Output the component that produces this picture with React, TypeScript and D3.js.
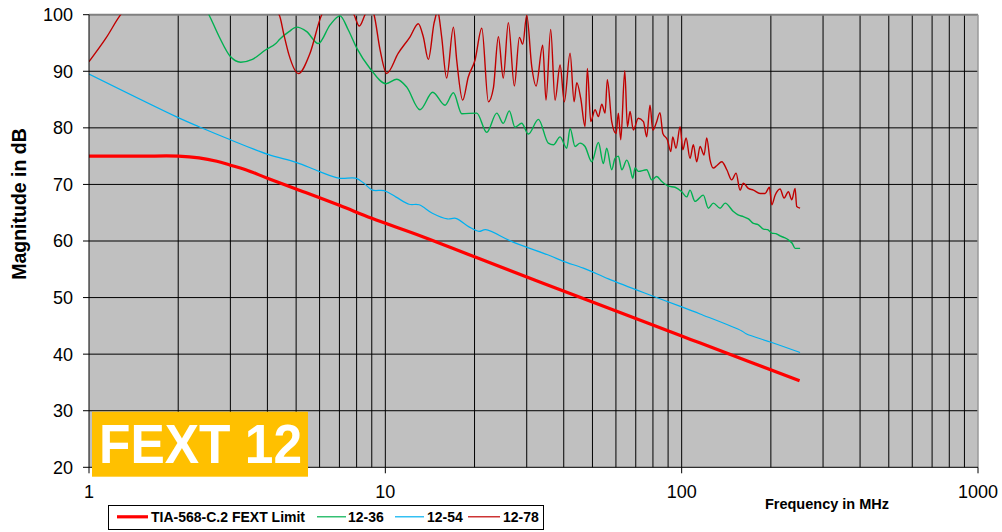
import React from "react";
import * as d3 from "d3";

// ---- Data (frequency in MHz, magnitude in dB) ----
const limitFreq = [1, 1.5, 2, 2.35, 2.7, 3, 3.38, 4, 5, 7, 9, 13.3, 20, 50, 100, 115, 250];
const limitDb = [75, 75, 75, 74.7, 74.1, 73.4, 72.6, 71.1, 69.2, 66.3, 64.0, 60.8, 57.2, 49.2, 43.2, 42.0, 35.3];

const blueFreq = [1, 2, 2.35, 3, 4.02, 5, 5.98, 6.98, 7.94, 8.47, 9.04, 9.9, 10.84, 12.02, 13.0, 14.41, 16.19, 17.29, 19.16, 20.7, 21.8, 27, 36, 39.9, 46.6, 56.6, 75, 99.5, 115.4, 159.6, 165, 200.4, 251];
const blueDb = [89.5, 81.8, 80.2, 77.9, 75.3, 73.9, 72.3, 71.1, 71.1, 70.2, 69.0, 68.9, 67.8, 66.5, 66.4, 64.9, 63.9, 64.0, 62.5, 61.7, 62.0, 59.8, 57.4, 56.4, 55.2, 53.3, 50.8, 48.4, 47.1, 44.1, 43.6, 42.1, 40.3];

const greenFreq = [2.3, 2.54, 2.75, 3.0, 3.25, 3.56, 3.95, 4.27, 4.41, 4.73, 5.02, 5.43, 5.94, 6.51, 7.03, 7.5, 8.01, 8.88, 10.06, 10.93, 11.81, 13.09, 14.45, 15.9, 16.97, 18.11, 20.35, 21.99, 23.77, 25.0, 26.2, 27.4, 28.84, 30.39, 32.85, 35.48, 36.9, 38.88, 40.95, 42.02, 43.67, 45.4, 47.2, 49.73, 52.36, 54.42, 55.85, 58.07, 59.57, 61.14, 62.8, 65.27, 66.96, 68.4, 69.6, 71.4, 76.2, 79.25, 82.4, 85.7, 90.2, 95.0, 100.1, 104.0, 106.7, 110.9, 118.3, 123.0, 127.9, 134.8, 140.2, 149.5, 155, 161.5, 168, 174.6, 181, 188.8, 195, 201.4, 208, 214.8, 222, 229.1, 236, 241.4, 251];
const greenDb = [104, 100, 96.1, 92.6, 91.6, 92.1, 93.8, 94.9, 95.7, 97.0, 97.8, 97.0, 94.9, 98.2, 99.8, 97.3, 94.1, 90.5, 87.8, 88.6, 87.2, 83.2, 86.3, 84.0, 86.2, 82.5, 82.6, 79.2, 82.6, 80.8, 83.0, 80.1, 80.8, 78.9, 81.5, 77.3, 77.0, 78.4, 76.4, 79.9, 76.7, 77.3, 76.7, 74.0, 77.4, 73.7, 76.4, 72.6, 74.6, 75.0, 72.6, 74.3, 72.9, 71.1, 72.9, 72.3, 72.6, 70.8, 71.4, 70.5, 69.7, 69.5, 68.7, 67.8, 69.0, 67.0, 68.1, 65.8, 66.7, 65.8, 66.7, 65.2, 64.6, 64.3, 63.9, 63.1, 62.9, 62.1, 62.0, 61.4, 61.3, 60.9, 60.6, 60.2, 59.6, 58.7, 58.7];

const redFreq = [1, 1.139, 1.279, 1.6, 2.5, 3.5, 4.38, 4.55, 4.73, 5.09, 5.57, 6.1, 6.94, 7.84, 8.17, 8.54, 8.85, 9.16, 9.6, 10.1, 11.06, 12.12, 12.92, 13.43, 13.97, 14.6, 14.83, 14.95, 15.14, 15.49, 16.1, 16.97, 17.41, 18.24, 19.05, 20.08, 21.16, 22.27, 23.15, 24.07, 25.0, 26.01, 27.25, 28.34, 29.09, 30.0, 31.2, 32.26, 33.97, 34.85, 36.14, 37.38, 38.88, 40.18, 42.02, 43.35, 44.26, 45.65, 47.2, 48.06, 49.34, 51.02, 52.36, 53.75, 55.14, 56.13, 58.07, 60.06, 61.14, 62.3, 64.27, 65.6, 66.96, 68.7, 71.4, 74.3, 76.2, 78.2, 79.9, 82.0, 84.5, 86.4, 89.5, 91.9, 93.3, 95.7, 98.8, 100.9, 103.5, 106.7, 109.5, 112.4, 115.4, 119.0, 121.5, 124.7, 127.9, 131.3, 136.6, 142.0, 147.6, 152.6, 157.4, 161.5, 167.9, 174.6, 183.9, 191.2, 197.7, 201.4, 206.7, 214.8, 221.6, 229.1, 235.3, 241.4, 244.5, 251];
const redDb = [91.7, 95.8, 100, 104, 106, 104, 100, 96.4, 92.9, 89.6, 93.2, 100, 103, 100, 98.0, 100, 101.5, 100, 93.8, 89.6, 93.2, 96.1, 98.4, 96.1, 92.1, 98.5, 100, 101, 100, 96.1, 88.8, 97.8, 92.0, 84.9, 89.0, 92.0, 97.6, 84.6, 87.0, 96.1, 88.8, 98.6, 87.4, 96.0, 94.8, 99.9, 90.8, 87.4, 94.6, 84.9, 97.4, 84.9, 91.1, 84.6, 93.2, 84.6, 88.0, 85.2, 80.2, 90.5, 81.1, 83.2, 82.0, 84.2, 82.6, 88.5, 81.1, 79.0, 82.6, 77.9, 90.1, 80.2, 82.9, 79.6, 81.7, 81.1, 78.4, 84.0, 79.6, 80.8, 82.7, 79.0, 77.9, 75.8, 78.4, 76.4, 80.2, 76.1, 78.2, 74.6, 77.0, 74.0, 76.7, 75.2, 78.2, 74.3, 72.9, 73.3, 74.0, 72.6, 70.8, 72.0, 69.0, 70.2, 69.3, 69.0, 68.4, 68.4, 69.5, 66.4, 68.1, 69.2, 67.6, 68.7, 67.3, 69.3, 66.1, 65.8];

const yTicks = [20, 30, 40, 50, 60, 70, 80, 90, 100];
const xTickLabels = [1, 10, 100, 1000];

const seriesNames = ["TIA-568-C.2 FEXT Limit", "12-36", "12-54", "12-78"];

const W = 1002;
const H = 532;
const L = 89;
const R = 978;
const T = 14.7;
const B = 467.3;

export default function App() {
  const x = d3.scaleLog().domain([1, 1000]).range([L, R]);
  const y = d3.scaleLinear().domain([20, 100]).range([B, T]);

  const mk = (fs: number[], vs: number[], curve: d3.CurveFactory) =>
    d3
      .line<number>()
      .x((_, i) => x(fs[i]))
      .y((v) => y(v))
      .curve(curve)(vs) || "";

  const minorX: number[] = [];
  [1, 10, 100].forEach((dec) => {
    for (let k = 2; k <= 9; k++) minorX.push(dec * k);
  });
  minorX.push(10, 100);

  const font = "Arial, 'Liberation Sans', Helvetica, sans-serif";

  const legendItems = [
    { name: seriesNames[0], color: "#FF0000", w: 3.2, x1: 117, x2: 148, tx: 151 },
    { name: seriesNames[1], color: "#00B050", w: 1.2, x1: 317, x2: 346, tx: 348 },
    { name: seriesNames[2], color: "#00B0F0", w: 1.2, x1: 395, x2: 424, tx: 427 },
    { name: seriesNames[3], color: "#C00000", w: 1.2, x1: 468, x2: 500, tx: 503 },
  ];

  return (
    <svg
      width={W}
      height={H}
      style={{ position: "fixed", left: 0, top: 0, background: "#fff" }}
      fontFamily={font}
    >
      <defs>
        <clipPath id="plotClip">
          <rect x={L} y={T} width={R - L} height={B - T} />
        </clipPath>
      </defs>
      <rect x={L} y={T} width={R - L} height={B - T} fill="#C0C0C0" />
      {/* vertical grid */}
      {minorX.map((f, i) => (
        <line key={"vx" + i} x1={x(f)} x2={x(f)} y1={T} y2={B} stroke="#000" strokeWidth={1} />
      ))}
      {/* horizontal grid */}
      {yTicks.slice(1, -1).map((v) => (
        <line key={"hy" + v} x1={L} x2={R} y1={y(v)} y2={y(v)} stroke="#000" strokeWidth={1} />
      ))}
      {/* plot borders */}
      <line x1={L} x2={R} y1={T} y2={T} stroke="#808080" strokeWidth={2} />
      <line x1={R} x2={R} y1={T} y2={B} stroke="#9a9a9a" strokeWidth={1.5} />

      {/* series */}
      <g clipPath="url(#plotClip)" fill="none" strokeLinejoin="round">
        <path d={mk(blueFreq, blueDb, d3.curveCatmullRom.alpha(0.5))} stroke="#00B0F0" strokeWidth={1.2} />
        <path d={mk(greenFreq, greenDb, d3.curveMonotoneX)} stroke="#00B050" strokeWidth={1.4} />
        <path d={mk(redFreq, redDb, d3.curveMonotoneX)} stroke="#C00000" strokeWidth={1.4} />
        <path d={mk(limitFreq, limitDb, d3.curveCatmullRom.alpha(0.5))} stroke="#FF0000" strokeWidth={3.2} />
      </g>

      {/* axes */}
      <line x1={L} x2={L} y1={T} y2={B} stroke="#000" strokeWidth={1} />
      <line x1={L} x2={R} y1={B} y2={B} stroke="#000" strokeWidth={1} />
      {yTicks.map((v) => (
        <g key={"yt" + v}>
          <line x1={L - 6} x2={L} y1={y(v)} y2={y(v)} stroke="#000" />
          <text x={73} y={y(v)} dy="0.36em" textAnchor="end" fontSize={18} fill="#000">
            {v}
          </text>
        </g>
      ))}
      {xTickLabels.map((f) => (
        <g key={"xt" + f}>
          <line x1={x(f)} x2={x(f)} y1={B} y2={B + 6} stroke="#000" />
          <text x={x(f)} y={497.5} textAnchor="middle" fontSize={18} fill="#000">
            {f}
          </text>
        </g>
      ))}

      {/* axis titles */}
      <text x={827} y={508.5} textAnchor="middle" fontSize={14.5} fontWeight="bold" fill="#000">
        Frequency in MHz
      </text>
      <text
        transform="translate(25.5,204) rotate(-90)"
        textAnchor="middle"
        fontSize={19.5}
        fontWeight="bold"
        fill="#000"
      >
        Magnitude in dB
      </text>

      {/* FEXT badge */}
      <rect x={92} y={411.7} width={216} height={65} fill="#FFC000" />
      <text
        x={99}
        y={463.3}
        fontSize={55}
        fontWeight="bold"
        fill="#fff"
        textLength={203}
        lengthAdjust="spacingAndGlyphs"
      >
        FEXT 12
      </text>

      {/* legend */}
      <rect x={108.5} y={505.5} width={435} height={24} fill="#fff" stroke="#000" strokeWidth={1} />
      {legendItems.map((it) => (
        <g key={it.name}>
          <line x1={it.x1} x2={it.x2} y1={516.8} y2={516.8} stroke={it.color} strokeWidth={it.w} />
          <text x={it.tx} y={522} fontSize={14} fontWeight="bold" fill="#000">
            {it.name}
          </text>
        </g>
      ))}
    </svg>
  );
}
